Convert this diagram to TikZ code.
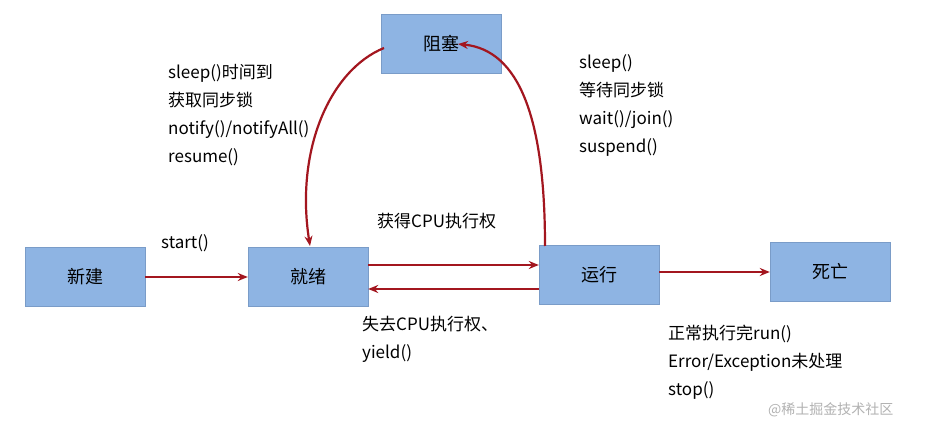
\documentclass[tikz,border=0pt]{standalone}
\usepackage{fontspec}
\setmainfont{Noto Sans CJK SC}
\usetikzlibrary{arrows.meta}
\definecolor{boxfill}{HTML}{8EB4E3}
\definecolor{boxline}{HTML}{7A9CC8}
\definecolor{arr}{HTML}{A3161F}
\begin{document}
\begin{tikzpicture}[x=1pt,y=-1pt,
  st/.style={draw=boxline,fill=boxfill,minimum width=120pt,minimum height=59pt,inner sep=0pt,font=\fontsize{18}{22}\selectfont},
  con/.style={draw=arr,line width=2.2pt,-{Stealth[length=10pt,width=8pt]}},
  lab/.style={font=\fontsize{17}{28}\selectfont,align=left,anchor=north west,inner sep=0pt}]
\useasboundingbox[fill=white] (0,0) rectangle (936,430);
\node[st] (new) at (85,277) {新建};
\node[st] (ready) at (308,277) {就绪};
\node[st] (run) at (599,275) {运行};
\node[st] (dead) at (830,272) {死亡};
\node[st] (block) at (441,44) {阻塞};
\draw[con] (new) -- (ready);
\draw[con] ([yshift=12pt]ready.east) -- ([yshift=10pt]run.west);
\draw[con] ([yshift=-14pt]run.west) -- ([yshift=-12pt]ready.east);
\draw[con] (run.east |- dead.west) -- (dead.west);
\coordinate (c1) at (545,246);
\draw[con] (c1) .. controls (545,120) and (520,50) .. (458,44);
\coordinate (c2) at (384,48);
\draw[con] (c2) .. controls (330,70) and (295,150) .. (310,246);
\node[lab] (l1) at (168,64) {sleep()时间到\\获取同步锁\\notify()/notifyAll()\\resume()};
\node[lab] (l2) at (579,54) {sleep()\\等待同步锁\\wait()/join()\\suspend()};
\node[lab] (l3) at (161,234) {start()};
\node[lab] (l4) at (377,213) {获得CPU执行权};
\node[lab] (l5) at (362,316) {失去CPU执行权、\\yield()};
\node[lab] (l6) at (668,325) {正常执行完run()\\Error/Exception未处理\\stop()};
\node[lab,text=gray!60,font=\fontsize{14}{16}\selectfont] (wm) at (768,402) {@稀土掘金技术社区};
\end{tikzpicture}
\end{document}
